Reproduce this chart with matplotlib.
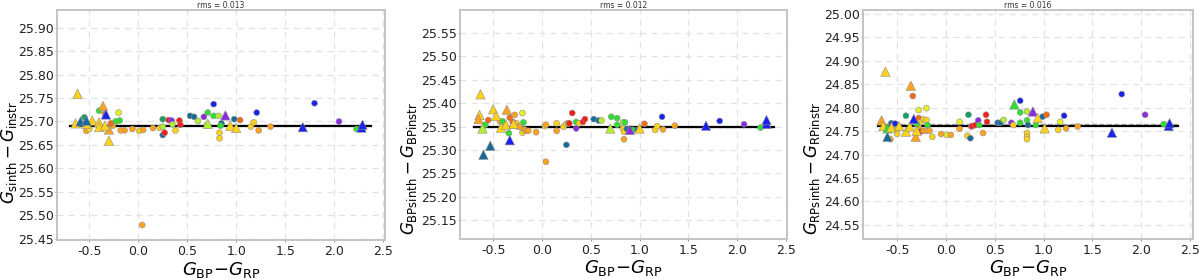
import matplotlib
matplotlib.use("Agg")
import matplotlib.pyplot as plt

# colour codes used for each point
palette = {
    'r': '#ff1a1a', 'do': '#f86a12', 'o': '#ffa31f', 'y': '#ffd21a',
    'ly': '#e8f020', 'yg': '#b4ee30', 'g': '#2ee02e', 'tg': '#14a060',
    't': '#1a6a98', 'b': '#1a22ee', 'p': '#8a2be2',
}

# ---------------- panel 1 : G ----------------
g_circ_x = [-0.40, -0.55, -0.20, -0.34, -0.19, -0.23, -0.26, -0.28, -0.53, -0.50,
            -0.14, -0.18, -0.06, 0.01, 0.05, 0.15, 0.22, 0.25, 0.25, 0.25,
            0.27, 0.31, 0.34, 0.35, 0.38, 0.42, 0.43, 0.53, 0.57, 0.61,
            0.67, 0.70, 0.77, 0.77, 0.82, 0.83, 0.83, 0.85, 0.84, 0.98,
            1.04, 1.15, 1.18, 1.21, 1.23, 1.35, 1.80, 2.05, 2.23, 0.04,
            0.71]
g_circ_y = [25.723, 25.709, 25.719, 25.716, 25.702, 25.700, 25.691, 25.696, 25.680, 25.684,
            25.681, 25.681, 25.684, 25.680, 25.682, 25.686, 25.686, 25.689, 25.705, 25.671,
            25.676, 25.703, 25.702, 25.694, 25.681, 25.702, 25.693, 25.712, 25.710, 25.701,
            25.710, 25.692, 25.737, 25.712, 25.712, 25.676, 25.664, 25.696, 25.691, 25.705,
            25.703, 25.689, 25.698, 25.719, 25.681, 25.689, 25.739, 25.700, 25.684, 25.479,
            25.719]
g_circ_c = ['g', 'tg', 'ly', 'do', 'g', 'g', 'o', 'do', 'o', 'y',
            'o', 'o', 'o', 'y', 'o', 'o', 'y', 'yg', 'tg', 't',
            'r', 'r', 'p', 'yg', 'y', 'r', 'r', 't', 't', 'yg',
            'p', 'y', 'b', 'g', 'yg', 'y', 'y', 't', 'g', 't',
            'do', 'y', 'y', 'b', 'o', 'o', 'b', 'p', 'g', 'o',
            'g']
g_tri_x = [-0.62, -0.64, -0.36, -0.30, -0.47, -0.40, -0.40, -0.53, -0.30, -0.34,
           0.94, 1.00, 0.89, 0.71, 1.68, 2.28, 2.29, -0.33, -0.59, -0.53]
g_tri_y = [25.759, 25.696, 25.733, 25.659, 25.702, 25.698, 25.688, 25.695, 25.683, 25.691,
           25.691, 25.686, 25.713, 25.695, 25.688, 25.687, 25.693, 25.715, 25.700, 25.702]
g_tri_c = ['y', 'y', 'o', 'y', 'y', 'y', 'y', 'y', 'o', 'y',
           'y', 'y', 'p', 'yg', 'b', 'b', 'b', 'b', 't', 't']

# ---------------- panel 2 : G_BP ----------------
bp_circ_x = [-0.43, -0.58, -0.55, -0.33, -0.28, -0.26, -0.40, -0.34, -0.20, -0.19,
             -0.30, -0.26, -0.23, -0.20, -0.18, -0.16, -0.14, -0.06, 0.03, 0.04,
             0.15, 0.15, 0.22, 0.25, 0.27, 0.28, 0.31, 0.25, 0.35, 0.35,
             0.38, 0.42, 0.44, 0.04, 0.53, 0.58, 0.61, 0.71, 0.77, 0.77,
             0.83, 0.85, 0.83, 0.84, 0.84, 0.87, 0.90, 0.93, 0.98, 1.05,
             1.16, 1.18, 1.24, 1.23, 1.36, 1.82, 2.07, 2.24]
bp_circ_y = [25.361, 25.354, 25.364, 25.369, 25.375, 25.357, 25.361, 25.336, 25.379, 25.359,
             25.360, 25.351, 25.349, 25.337, 25.344, 25.341, 25.341, 25.338, 25.351, 25.354,
             25.357, 25.341, 25.350, 25.356, 25.357, 25.357, 25.379, 25.311, 25.346, 25.360,
             25.357, 25.360, 25.366, 25.275, 25.366, 25.363, 25.363, 25.371, 25.368, 25.354,
             25.359, 25.359, 25.346, 25.339, 25.323, 25.345, 25.341, 25.343, 25.343, 25.356,
             25.343, 25.351, 25.344, 25.371, 25.352, 25.362, 25.355, 25.348]
bp_circ_c = ['o', 'g', 'do', 'do', 'o', 'y', 'g', 'g', 'ly', 'g',
             'do', 'o', 'o', 'y', 'o', 'o', 'o', 'o', 'ly', 'o',
             'y', 'o', 'y', 'y', 'g', 'r', 'r', 't', 'p', 'g',
             'y', 'r', 'r', 'o', 't', 't', 'yg', 'g', 'g', 'g',
             'yg', 'g', 'y', 'y', 'o', 't', 't', 'g', 't', 'do',
             'y', 'y', 'o', 'b', 'o', 'b', 'p', 'g']
bp_tri_x = [-0.63, -0.64, -0.65, -0.50, -0.47, -0.36, -0.60, -0.53, -0.33, -0.42,
            -0.37, -0.29, -0.61, 0.70, 0.90, 1.00, 1.68, 2.30, 2.30]
bp_tri_y = [25.419, 25.375, 25.366, 25.387, 25.373, 25.386, 25.290, 25.309, 25.321, 25.348,
            25.354, 25.356, 25.346, 25.346, 25.343, 25.346, 25.352, 25.356, 25.364]
bp_tri_c = ['y', 'y', 'o', 'y', 'y', 'o', 't', 't', 'b', 'y',
            'y', 'y', 'yg', 'yg', 'p', 'y', 'b', 'b', 'b']

# ---------------- panel 3 : G_RP ----------------
rp_circ_x = [-0.34, -0.41, -0.28, -0.28, -0.20, -0.23, -0.20, -0.19, -0.27, -0.28,
             -0.26, -0.23, -0.20, -0.17, -0.30, -0.53, -0.51, -0.56, -0.52, -0.57,
             -0.50, -0.14, -0.05, 0.01, 0.05, 0.14, 0.14, 0.23, 0.22, 0.25,
             0.26, 0.27, 0.30, 0.33, 0.34, 0.38, 0.41, 0.42, 0.53, 0.56,
             0.59, 0.67, 0.69, 0.76, 0.76, 0.83, 0.76, 0.83, 0.83, 0.83,
             0.83, 0.84, 0.92, 0.99, 1.03, 1.15, 1.17, 1.21, 1.23, 1.35,
             1.80, 2.04, 2.23]
rp_circ_y = [24.825, 24.783, 24.778, 24.795, 24.799, 24.775, 24.774, 24.763, 24.768, 24.758,
             24.749, 24.751, 24.751, 24.751, 24.765, 24.756, 24.753, 24.767, 24.766, 24.733,
             24.744, 24.738, 24.744, 24.742, 24.742, 24.770, 24.755, 24.785, 24.740, 24.735,
             24.760, 24.761, 24.763, 24.773, 24.763, 24.746, 24.785, 24.770, 24.768, 24.768,
             24.774, 24.768, 24.763, 24.815, 24.790, 24.792, 24.768, 24.773, 24.746, 24.738,
             24.733, 24.763, 24.763, 24.781, 24.785, 24.753, 24.770, 24.783, 24.756, 24.760,
             24.829, 24.785, 24.765]
rp_circ_c = ['do', 'tg', 'do', 'ly', 'ly', 'y', 'y', 'g', 'y', 'o',
             'r', 'o', 'o', 'o', 'g', 'g', 'y', 't', 'b', 'o',
             'y', 'y', 'o', 'ly', 'o', 'ly', 'o', 'tg', 'y', 't',
             'r', 'r', 'r', 'p', 'g', 'o', 'r', 'r', 't', 't',
             'yg', 'p', 'y', 'b', 'g', 'yg', 'g', 'g', 'y', 'y',
             'y', 't', 'g', 't', 'do', 'y', 'ly', 'b', 'o', 'o',
             'b', 'p', 'g']
rp_tri_x = [-0.62, -0.36, -0.66, -0.64, -0.60, -0.60, -0.56, -0.48, -0.41, -0.37,
            -0.31, -0.30, -0.33, 0.70, 0.89, 0.94, 1.01, 1.70, 2.28, 2.29]
rp_tri_y = [24.877, 24.847, 24.773, 24.761, 24.738, 24.756, 24.758, 24.761, 24.749, 24.760,
            24.738, 24.751, 24.776, 24.807, 24.792, 24.778, 24.756, 24.747, 24.761, 24.767]
rp_tri_c = ['y', 'o', 'o', 'y', 't', 'g', 'y', 'y', 'y', 'y',
            'o', 'y', 'b', 'g', 'p', 'y', 'y', 'b', 'b', 'b']

means = [25.691, 25.349, 24.762]
wmeans = [25.693, 25.350, 24.766]
rms_labels = ['rms = 0.013', 'rms = 0.012', 'rms = 0.016']
ylabels = [r'$G_{\mathrm{sinth}} - G_{\mathrm{instr}}$',
           r'$G_{\mathrm{BPsinth}} - G_{\mathrm{BPinstr}}$',
           r'$G_{\mathrm{RPsinth}} - G_{\mathrm{RPinstr}}$']
ylims = [(25.447, 25.938), (25.11, 25.599), (24.52, 25.0085)]
yticks = [[25.45, 25.50, 25.55, 25.60, 25.65, 25.70, 25.75, 25.80, 25.85, 25.90],
          [25.15, 25.20, 25.25, 25.30, 25.35, 25.40, 25.45, 25.50, 25.55],
          [24.55, 24.60, 24.65, 24.70, 24.75, 24.80, 24.85, 24.90, 24.95, 25.00]]
xticks = [-0.5, 0.0, 0.5, 1.0, 1.5, 2.0, 2.5]
line_x = [-0.70, 2.38]

panels = [
    (g_circ_x, g_circ_y, g_circ_c, g_tri_x, g_tri_y, g_tri_c),
    (bp_circ_x, bp_circ_y, bp_circ_c, bp_tri_x, bp_tri_y, bp_tri_c),
    (rp_circ_x, rp_circ_y, rp_circ_c, rp_tri_x, rp_tri_y, rp_tri_c),
]

W, H = 1200, 279
fig = plt.figure(figsize=(W / 100, H / 100), dpi=100)

# axes boxes in pixels: left, right, top, bottom
boxes = [(57, 385, 10, 240), (460, 787, 10, 239), (863, 1193, 10, 239)]
xlims = [(-0.83, 2.52), (-0.84, 2.51), (-0.85, 2.53)]
# y label placement (right edge, vertical centre) in axes coords
ylab_pos = [(-0.116, 0.38), (-0.124, 0.31), (-0.123, 0.31)]

for i, (cx, cy, cc, tx, ty, tc) in enumerate(panels):
    l, r, t, b = boxes[i]
    ax = fig.add_axes([l / W, (H - b) / H, (r - l) / W, (b - t) / H])

    ax.grid(True, color='#e2e2e2', linestyle=(0, (5, 4)), linewidth=0.9)
    ax.set_axisbelow(True)

    ax.plot(line_x, [wmeans[i]] * 2, color='#aaaaaa', linestyle='--', linewidth=1.0, zorder=2)
    ax.plot(line_x, [means[i]] * 2, color='black', linewidth=1.6, zorder=2)

    ax.scatter(cx, cy, s=18, c=[palette[k] for k in cc], edgecolors='#8c8c8c',
               linewidths=0.4, zorder=3)
    ax.scatter(tx, ty, s=46, marker='^', c=[palette[k] for k in tc], edgecolors='#8c8c8c',
               linewidths=0.4, zorder=4)

    ax.set_xlim(*xlims[i])
    ax.set_ylim(*ylims[i])
    ax.set_xticks(xticks)
    ax.set_yticks(yticks[i])
    ax.set_xticklabels(['%.1f' % v for v in xticks])
    ax.set_yticklabels(['%.2f' % v for v in yticks[i]])
    ax.tick_params(labelsize=9, colors='#222222', length=1.5, width=0.8, pad=0.8)
    ax.tick_params(axis='x', pad=2)
    ax.tick_params(axis='both', color='#999999')

    for sp in ax.spines.values():
        sp.set_color('#c4c4c4')
        sp.set_linewidth(1.4)

    ax.set_title(rms_labels[i], fontsize=5.5, pad=1.5, color='#333333')
    ax.set_ylabel(ylabels[i], fontsize=12)
    ax.yaxis.set_label_coords(*ylab_pos[i])
    ax.set_xlabel(r'$G_{\mathrm{BP}}\!-\!G_{\mathrm{RP}}$', fontsize=13)
    ax.xaxis.set_label_coords(0.5, -0.085)

fig.savefig('out.png', dpi=100, facecolor='white')
